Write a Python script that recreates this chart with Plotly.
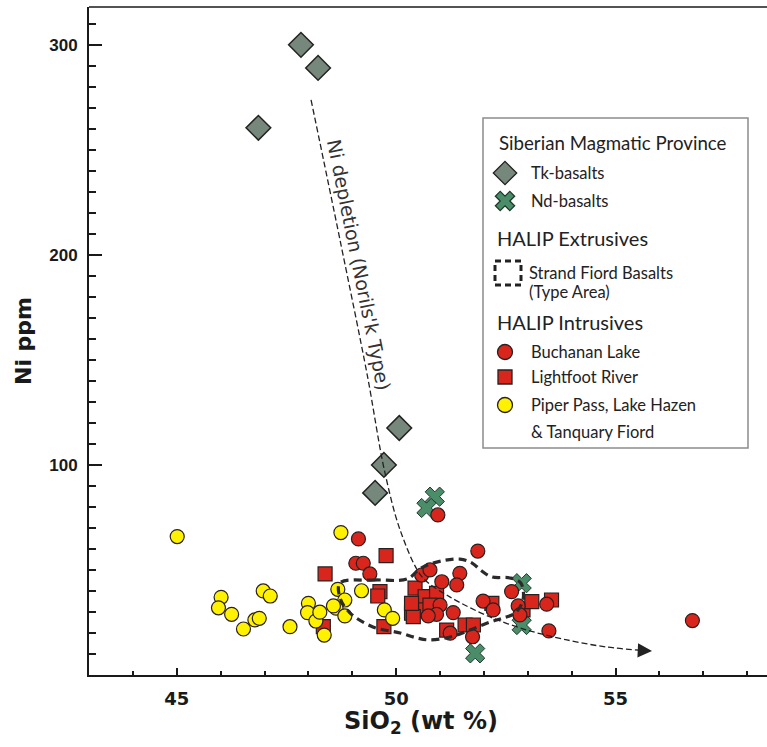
import plotly.graph_objects as go

# ---- Siberian Magmatic Province ----
tk_sio2 = [47.83, 48.22, 46.86, 50.07, 49.72, 49.52]
tk_ni = [300.0, 289.0, 260.5, 117.6, 100.0, 86.7]

nd_sio2 = [50.88, 50.69, 52.86, 52.86, 51.80]
nd_ni = [84.9, 79.5, 43.7, 23.8, 10.3]

# ---- HALIP intrusives ----
lf_sio2 = [48.38, 48.34, 49.77, 49.63, 49.58, 49.72, 50.43, 50.66, 50.92, 50.47,
           50.35, 50.39, 50.77, 50.35, 51.15, 51.57, 51.76, 52.18, 52.89, 53.09, 53.54]
lf_ni = [48.1, 23.0, 56.8, 39.7, 37.6, 23.0, 41.4, 37.3, 38.9, 31.0,
         29.4, 27.8, 33.3, 34.1, 21.4, 23.8, 23.8, 34.1, 31.0, 34.9, 35.7]

bl_sio2 = [49.14, 49.08, 49.25, 49.40, 50.95, 50.58, 50.77, 51.04, 51.45, 51.38,
           51.86, 51.00, 51.30, 50.92, 50.73, 51.23, 51.74, 51.98, 52.21, 52.63,
           52.78, 52.82, 53.43, 53.48, 56.75]
bl_ni = [64.8, 53.2, 53.2, 48.1, 76.2, 47.6, 50.0, 44.4, 48.4, 42.9,
         59.0, 33.3, 29.7, 28.9, 28.1, 19.9, 18.2, 35.2, 31.0, 39.7,
         32.9, 28.6, 33.7, 21.0, 25.9]

pp_sio2 = [45.01, 46.01, 45.95, 46.25, 46.52, 46.78, 46.88, 46.97, 47.13, 47.58,
           48.00, 47.98, 48.17, 48.26, 48.36, 48.74, 48.67, 48.83, 48.63, 48.57,
           48.83, 49.21, 49.73, 49.92]
pp_ni = [65.9, 37.0, 32.0, 28.9, 21.9, 26.2, 27.0, 40.0, 37.6, 23.0,
         34.1, 29.7, 25.7, 29.9, 19.0, 67.8, 40.8, 35.7, 31.8, 32.9,
         28.1, 40.1, 31.0, 27.0]

# ---- Strand Fiord Basalts field (type area) ----
sf_sio2 = [48.72, 49.47, 50.25, 50.54, 50.84, 51.45, 51.73, 51.95, 52.18, 52.59,
           52.84, 52.89, 52.71, 52.43, 52.14, 51.68, 51.23, 50.77, 50.48, 50.09,
           49.47, 48.95, 48.72, 48.72]
sf_ni = [43.8, 45.2, 45.7, 50.5, 53.3, 55.2, 53.3, 49.5, 46.7, 46.2,
         43.8, 35.7, 29.5, 27.1, 25.2, 21.4, 18.1, 16.7, 17.6, 20.0,
         22.9, 29.5, 36.7, 43.8]

# ---- Ni depletion trend (Norils'k type) ----
dep_sio2 = [48.06, 48.72, 49.34, 49.73, 50.09, 50.59, 51.23, 52.14, 52.98, 53.89, 54.80, 55.83]
dep_ni = [273.8, 207.1, 142.9, 97.6, 69.0, 46.7, 37.1, 27.6, 21.4, 16.7, 13.3, 11.4]

# axis ticks
x_major = [45, 50, 55]
y_major = [100, 200, 300]

RED = "#d8261d"
YELLOW = "#fff200"
GREY = "#76877b"
GREEN = "#4b8d69"
EDGE = "#2a2020"

fig = go.Figure()

fig.add_trace(go.Scatter(x=tk_sio2, y=tk_ni, mode="markers", name="Tk-basalts",
                         marker=dict(symbol="diamond", size=19, color=GREY,
                                     line=dict(color="#222", width=1.5))))
fig.add_trace(go.Scatter(x=nd_sio2, y=nd_ni, mode="markers", name="Nd-basalts",
                         marker=dict(symbol="x", size=17, color=GREEN,
                                     line=dict(color="#1f3a2b", width=1))))
fig.add_trace(go.Scatter(x=lf_sio2, y=lf_ni, mode="markers", name="Lightfoot River",
                         marker=dict(symbol="square", size=14, color=RED,
                                     line=dict(color=EDGE, width=1.2))))
fig.add_trace(go.Scatter(x=bl_sio2, y=bl_ni, mode="markers", name="Buchanan Lake",
                         marker=dict(symbol="circle", size=14, color=RED,
                                     line=dict(color=EDGE, width=1.2))))
fig.add_trace(go.Scatter(x=pp_sio2, y=pp_ni, mode="markers",
                         name="Piper Pass, Lake Hazen & Tanquary Fiord",
                         marker=dict(symbol="circle", size=14, color=YELLOW,
                                     line=dict(color=EDGE, width=1.2))))

# Strand Fiord field outline
fig.add_trace(go.Scatter(x=sf_sio2, y=sf_ni, mode="lines", name="Strand Fiord Basalts",
                         line=dict(color="#2b2b2b", width=3.2, dash="8px,5px",
                                   shape="spline", smoothing=1.0)))
# Ni depletion trend
fig.add_trace(go.Scatter(x=dep_sio2, y=dep_ni, mode="lines", name="Ni depletion",
                         line=dict(color="#222", width=1.3, dash="6px,3px",
                                   shape="spline", smoothing=0.9)))

# ---- legend panel, laid out in page pixels on a hidden overlay axis ----
PX_L, PX_R, PX_T, PX_B = 89, 767, 7, 675


def paper_x(px):
    return (px - PX_L) / (PX_R - PX_L)


def paper_y(py):
    return (PX_B - py) / (PX_B - PX_T)


leg_marks = [
    (505, 173, "diamond", 18, GREY, "#222"),
    (505, 201, "x", 17, GREEN, "#1f3a2b"),
    (505, 352, "circle", 15, RED, EDGE),
    (505, 377, "square", 14, RED, EDGE),
    (505, 405, "circle", 15, YELLOW, EDGE),
]
for lx, ly, sym, sz, col, lc in leg_marks:
    fig.add_trace(go.Scatter(x=[lx], y=[ly], mode="markers", xaxis="x2", yaxis="y2",
                             marker=dict(symbol=sym, size=sz, color=col,
                                         line=dict(color=lc, width=1.3)),
                             hoverinfo="skip"))

LEG_FONT = "Lato"
# (left edge px, centre px, text, font size)
leg_texts = [
    (498, 143, "Siberian Magmatic Province", 18.7),
    (530, 173, "Tk-basalts", 16.5),
    (530, 201, "Nd-basalts", 16.5),
    (496, 238, "HALIP Extrusives", 20),
    (528, 273, "Strand Fiord Basalts", 16.5),
    (528, 292, "(Type Area)", 16.5),
    (496, 322, "HALIP Intrusives", 20),
    (530, 352, "Buchanan Lake", 16.5),
    (530, 377, "Lightfoot River", 16.5),
    (530, 405, "Piper Pass, Lake Hazen", 16.5),
    (530, 432, "&amp; Tanquary Fiord", 16.5),
]
annotations = []
for tx, ty, txt, fs in leg_texts:
    annotations.append(dict(x=paper_x(tx), y=paper_y(ty), xref="paper", yref="paper",
                            text=txt, showarrow=False, align="left",
                            xanchor="left", yanchor="middle", borderpad=0,
                            font=dict(family=LEG_FONT, size=fs, color="#222")))

# trend label
annotations.append(dict(x=paper_x(359), y=paper_y(265), xref="paper", yref="paper",
                        text="Ni depletion (Norils&#39;k Type)", showarrow=False,
                        textangle=78.6, xanchor="center", yanchor="middle",
                        font=dict(family="DejaVu Sans", size=19, color="#333")))
# arrow head at the end of the trend
annotations.append(dict(x=dep_sio2[-1], y=dep_ni[-1], ax=dep_sio2[-1] - 0.25, ay=dep_ni[-1] + 0.25,
                        xref="x", yref="y", axref="x", ayref="y", text="",
                        showarrow=True, arrowhead=2, arrowsize=2.2, arrowwidth=1.3,
                        arrowcolor="#222"))
# axis titles
annotations.append(dict(x=paper_x(421), y=paper_y(722), xref="paper", yref="paper",
                        text="SiO<sub>2</sub> (wt %)", showarrow=False,
                        xanchor="center", yanchor="middle",
                        font=dict(family="DejaVu Sans", size=24, color="#1a1a1a", weight="bold")))
annotations.append(dict(x=paper_x(23), y=paper_y(341), xref="paper", yref="paper",
                        text="Ni ppm", showarrow=False, textangle=-90,
                        xanchor="center", yanchor="middle",
                        font=dict(family="DejaVu Sans", size=22, color="#1a1a1a", weight="bold")))

shapes = [
    # legend frame
    dict(type="rect", xref="x2", yref="y2", x0=483, x1=748, y0=118, y1=448,
         line=dict(color="#8c8c8c", width=1.5), fillcolor="white", layer="below"),
    # dashed-square key for the Strand Fiord field
    dict(type="rect", xref="x2", yref="y2", x0=495, x1=521, y0=261, y1=285,
         line=dict(color="#222", width=3, dash="6px,4px"), fillcolor="rgba(0,0,0,0)"),
    # top frame line
    dict(type="line", xref="paper", yref="paper", x0=0, x1=1, y0=1, y1=1,
         line=dict(color="#1a1a1a", width=1.5)),
]
# outer part of the major y ticks
for yv in y_major:
    shapes.append(dict(type="line", xref="x2", yref="y", x0=82, x1=89, y0=yv, y1=yv,
                       line=dict(color="#1a1a1a", width=1.5)))

fig.update_layout(
    width=767, height=747,
    margin=dict(l=PX_L, r=767 - PX_R, t=PX_T, b=747 - PX_B),
    paper_bgcolor="white", plot_bgcolor="white",
    showlegend=False,
    annotations=annotations,
    shapes=shapes,
    xaxis=dict(range=[43.0, 58.45], showgrid=False, zeroline=False,
               showline=True, linecolor="#1a1a1a", linewidth=2,
               tickvals=x_major, ticks="inside", ticklen=7, tickwidth=1.5, tickcolor="#1a1a1a",
               minor=dict(ticks="inside", dtick=1, tick0=0, ticklen=4, tickwidth=1.5,
                          tickcolor="#1a1a1a"),
               tickfont=dict(family="DejaVu Sans", size=18, color="#1a1a1a", weight="bold"),
               ticklabelstandoff=6),
    yaxis=dict(range=[0, 318], showgrid=False, zeroline=False,
               showline=True, linecolor="#1a1a1a", linewidth=2,
               tickvals=y_major, ticks="inside", ticklen=13, tickwidth=1.5, tickcolor="#1a1a1a",
               minor=dict(ticks="inside", dtick=10, tick0=0, ticklen=7, tickwidth=1.5,
                          tickcolor="#1a1a1a"),
               tickfont=dict(family="Liberation Sans", size=17, color="#1a1a1a", weight="bold"),
               ticklabelstandoff=6),
    xaxis2=dict(overlaying="x", anchor="y2", range=[PX_L, PX_R], visible=False, fixedrange=True),
    yaxis2=dict(overlaying="y", anchor="x2", range=[PX_B, PX_T], visible=False, fixedrange=True),
)

fig.write_html("out.html")
